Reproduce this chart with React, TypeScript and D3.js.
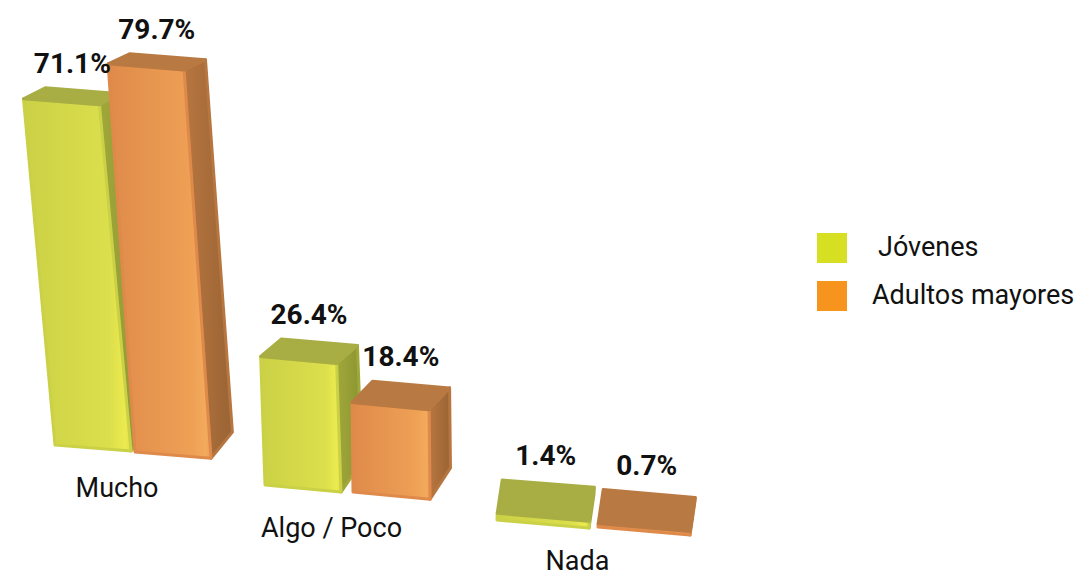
import React from "react";
import * as d3 from "d3";

const categories = ["Mucho", "Algo / Poco", "Nada"];
const seriesNames = ["Jóvenes", "Adultos mayores"];
const jovenes = [71.1, 26.4, 1.4];
const adultos = [79.7, 18.4, 0.7];
const valueLabels = [["71.1%", "26.4%", "1.4%"], ["79.7%", "18.4%", "0.7%"]];

const W = 1082;
const H = 578;

const palettes = [
  { front0: "#cbd146", front1: "#dcdf4c", hi: "#ecea4e", side0: "#a0a83a", side1: "#8c9432", top: "#a8ad44", legend: "#d7df23" },
  { front0: "#df8a4a", front1: "#eea055", hi: "#f3aa5c", side0: "#b77640", side1: "#9a6434", top: "#b87a42", legend: "#f7941d" },
];

type P = [number, number];

export default function App() {
  const values = [jovenes, adultos];
  const idx = categories.map((_, i) => i);
  // ground placement of groups (oblique perspective floor)
  const gx = d3.scaleLinear().domain([0, 1, 2]).range([55, 265, 497]);
  const gy = d3.scaleLinear().domain([0, 1, 2]).range([445, 485, 520]);
  const seriesDx = d3.scaleLinear().domain([0, 1, 2]).range([80, 88, 101]);
  const seriesDy = 7;
  // height scale (percent -> px)
  const hScale = d3.scaleLinear().domain([0, 100]).range([0, 487]);
  // perspective tilt of vertical edges, depending on screen x
  const tilt = d3.scaleLinear().domain([55, 353]).range([0.091, 0.01]);
  // receding depth depending on screen position
  const depthY = d3.scaleLinear().domain([60, 350, 450, 520]).range([-10, -17, -25, -34]).clamp(true);
  const depthX = d3.scaleLinear().domain([0, 440, 495]).range([22, 20, 5]).clamp(true);
  const frontW = d3.scaleLinear().domain([445, 490, 520]).range([76, 76, 92]).clamp(true);
  const frontSlope = d3.scaleLinear().domain([445, 520]).range([6, 8]).clamp(true);

  const add = (a: P, b: P): P => [a[0] + b[0], a[1] + b[1]];
  const poly = (pts: P[]) => pts.map((p) => p.join(",")).join(" ");

  const bars: any[] = [];
  idx.forEach((ci) => {
    [0, 1].forEach((si) => {
      const v = values[si][ci];
      const B: P = [gx(ci) + si * seriesDx(ci), gy(ci) + si * seriesDy];
      const dX = depthX(B[0]);
      const back = (p: P): P => [p[0] + dX, p[1] + depthY(p[1])];
      const R: P = [frontW(B[1]), frontSlope(B[1])];
      const h = hScale(v);
      const t = tilt(B[0]);
      const FBL = B;
      const FBR = add(B, R);
      const FTL: P = [B[0] - t * h, B[1] - h];
      const FTR = add(FTL, R);
      bars.push({ ci, si, v, FBL, FBR, FTL, FTR, BTL: back(FTL), BTR: back(FTR), BBR: back(FBR) });
    });
  });

  return (
    <div style={{ position: "fixed", left: 0, top: 0 }}>
      <svg width={W} height={H} viewBox={`0 0 ${W} ${H}`} style={{ display: "block", background: "#fff" }}>
        <defs>
          {palettes.map((p, i) => (
            <React.Fragment key={i}>
              <linearGradient id={`front${i}`} x1="0" x2="1" y1="0" y2="0">
                <stop offset="0" stopColor={p.front0} />
                <stop offset="0.8" stopColor={p.front1} />
                <stop offset="0.95" stopColor={p.hi} />
                <stop offset="1" stopColor={p.front1} />
              </linearGradient>
              <linearGradient id={`side${i}`} x1="0" x2="1" y1="0" y2="0">
                <stop offset="0" stopColor={p.side0} />
                <stop offset="1" stopColor={p.side1} />
              </linearGradient>
            </React.Fragment>
          ))}
        </defs>
        {bars.map((b, i) => {
          const pal = palettes[b.si];
          const sw = 3;
          return (
            <g key={i}>
              <polygon points={poly([b.FBR, b.BBR, b.BTR, b.FTR])} fill={`url(#side${b.si})`} stroke={pal.side0} strokeWidth={sw} strokeLinejoin="round" />
              <polygon points={poly([b.FBL, b.FBR, b.FTR, b.FTL])} fill={`url(#front${b.si})`} stroke={pal.front0} strokeWidth={sw} strokeLinejoin="round" />
              <polygon points={poly([b.FTL, b.FTR, b.BTR, b.BTL])} fill={pal.top} stroke={pal.top} strokeWidth={sw} strokeLinejoin="round" />
            </g>
          );
        })}
        {bars.map((b, i) => {
          const cx = (b.FTL[0] + b.BTR[0]) / 2;
          const ty = Math.min(b.BTL[1], b.BTR[1]) - 15;
          return (
            <text key={`l${i}`} x={cx} y={ty} textAnchor="middle" fontFamily="Roboto, sans-serif" fontWeight={700} fontSize={28} fill="#111">
              {valueLabels[b.si][b.ci]}
            </text>
          );
        })}
        {idx.map((ci) => {
          const a = bars[ci * 2];
          const b = bars[ci * 2 + 1];
          const cx = (a.FBL[0] + b.FBR[0]) / 2 - 16;
          const by = Math.min(gy(ci) + 52, 570);
          return (
            <text key={ci} x={cx} y={by} textAnchor="middle" fontFamily="Roboto, sans-serif" fontSize={27} fill="#111">
              {categories[ci]}
            </text>
          );
        })}
        {seriesNames.map((s, i) => (
          <g key={s} transform={`translate(817, ${233 + i * 48})`}>
            <rect width={30} height={30} fill={palettes[i].legend} />
            <text x={i === 0 ? 61 : 55} y={23} fontFamily="Roboto, sans-serif" fontSize={27} fill="#111">
              {s}
            </text>
          </g>
        ))}
      </svg>
    </div>
  );
}
